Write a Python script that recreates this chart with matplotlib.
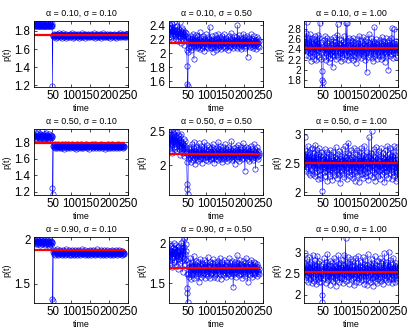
import numpy as np
import matplotlib
matplotlib.use("Agg")
import matplotlib.pyplot as plt

plt.rcParams['font.family'] = ['Liberation Sans', 'DejaVu Sans']

alphas = [0.10, 0.50, 0.90]
sigmas = [0.10, 0.50, 1.00]

p_a10_s10 = [
1.88,1.87,1.89,1.86,1.88,1.87,1.85,1.88,1.86,1.87,1.89,1.86,1.85,1.87,1.88,1.86,1.87,1.85,1.88,1.89,1.86,1.87,1.86,1.88,1.85,
1.87,1.86,1.88,1.87,1.85,1.86,1.89,1.87,1.86,1.88,1.85,1.87,1.86,1.88,1.87,1.85,1.86,1.88,1.89,1.86,1.87,1.85,1.86,1.88,1.19,
1.76,1.74,1.75,1.73,1.77,1.75,1.74,1.76,1.72,1.75,1.77,1.74,1.73,1.76,1.75,1.78,1.74,1.75,1.73,1.76,
1.75,1.77,1.74,1.72,1.75,1.76,1.74,1.75,1.78,1.73,1.75,1.74,1.76,1.75,1.72,1.74,1.77,1.75,1.74,1.76,
1.73,1.75,1.76,1.74,1.75,1.77,1.73,1.75,1.74,1.76,1.78,1.75,1.74,1.72,1.75,1.76,1.74,1.73,1.75,1.77,
1.74,1.76,1.75,1.73,1.74,1.76,1.75,1.77,1.74,1.72,1.75,1.76,1.74,1.75,1.73,1.76,1.78,1.75,1.74,1.75,
1.76,1.73,1.75,1.74,1.77,1.75,1.72,1.74,1.76,1.75,1.74,1.76,1.73,1.75,1.77,1.74,1.75,1.76,1.73,1.74,
1.75,1.77,1.74,1.76,1.75,1.73,1.74,1.76,1.78,1.75,1.74,1.72,1.75,1.76,1.74,1.75,1.77,1.73,1.75,1.74,
1.76,1.75,1.73,1.74,1.77,1.75,1.76,1.74,1.72,1.75,1.76,1.74,1.75,1.78,1.74,1.73,1.75,1.76,1.74,1.75,
1.73,1.76,1.75,1.74,1.77,1.75,1.73,1.74,1.76,1.75,1.72,1.75,1.77,1.74,1.75,1.76,1.73,1.75,1.74,1.76,
1.75,1.74,1.77,1.75,1.73,1.76,1.74,1.75,1.72,1.76,1.75,1.74,1.77,1.75,1.73,1.74,1.76,1.75,1.78,1.74,
1.75,1.73,1.76,1.74,1.75,1.77,1.74,1.76,1.75,1.73,1.74,1.76,1.75,1.77,1.73,1.75,1.74,1.76,1.75,1.74]

p_a10_s50 = [
2.36,2.31,2.40,2.28,2.34,2.22,2.38,2.30,2.26,2.42,2.33,2.19,2.35,2.29,2.44,2.27,2.31,2.24,2.37,2.21,2.33,2.28,2.39,2.25,2.30,
2.17,2.34,2.26,2.45,2.29,2.23,2.32,2.15,2.28,2.36,2.24,2.30,2.19,2.33,2.27,2.12,2.26,2.31,2.22,2.29,2.18,2.25,
2.05,1.82,1.56,1.53,2.02,
2.14,2.22,2.08,2.17,2.11,2.25,2.19,2.05,2.16,2.21,2.09,2.28,2.13,2.18,1.92,2.15,2.23,2.10,2.17,2.26,
2.12,2.07,2.19,2.14,2.24,2.09,2.16,2.20,2.11,2.30,2.13,2.06,2.18,2.15,2.22,2.08,2.17,2.12,2.25,2.10,
2.19,2.14,2.03,2.16,2.21,2.11,2.27,2.15,2.09,2.18,2.13,2.23,2.07,2.16,2.20,2.12,2.38,2.14,2.08,2.19,
2.15,2.24,2.10,2.17,2.02,2.13,2.21,2.16,2.09,2.26,2.12,2.18,2.05,2.15,2.22,2.11,2.19,2.14,2.28,2.08,
2.17,2.12,2.23,2.10,2.16,2.20,2.06,2.15,2.25,2.13,2.18,2.09,2.21,2.14,2.11,2.27,2.16,2.08,2.19,2.13,
2.22,2.10,2.17,2.15,2.04,2.18,2.24,2.12,2.16,2.09,2.20,2.14,2.29,2.11,2.17,2.13,2.21,2.07,2.16,2.19,
2.12,2.25,2.15,2.10,2.18,2.23,2.14,2.08,2.17,2.40,2.13,2.20,2.11,2.16,2.26,2.09,2.18,2.14,2.22,2.12,
2.06,2.17,2.21,2.13,2.15,2.28,2.10,2.19,2.14,2.08,2.23,2.16,2.11,2.18,2.25,2.13,1.95,2.17,2.20,2.12,
2.15,2.22,2.09,2.16,2.19,2.13,2.27,2.11,2.17,2.14,2.08,2.21,2.15,2.12,2.24,2.10,2.18,2.14,2.06,2.19,
2.13,2.23,2.16,2.11,2.20,2.15,2.09,2.17]

p_a10_s100 = [
2.55,2.38,2.61,2.47,2.30,2.72,2.44,2.95,2.52,2.36,2.58,2.41,2.27,2.63,2.49,2.33,2.70,2.45,2.18,2.56,2.39,2.62,2.28,2.51,2.43,
2.35,2.60,2.22,2.48,2.66,2.31,2.54,2.40,2.19,2.57,2.45,2.69,2.29,2.50,2.37,2.63,2.25,2.93,2.42,2.34,2.55,2.21,1.98,1.80,1.66,
1.76,2.45,2.38,2.58,2.26,2.49,2.67,2.33,2.41,2.20,2.53,2.36,2.62,2.28,2.47,2.15,2.39,2.56,2.31,2.44,2.24,2.60,2.35,2.50,2.29,
2.42,2.05,2.57,2.37,2.64,2.27,2.46,2.34,2.55,2.21,2.48,2.39,2.68,2.30,2.90,2.44,2.25,2.52,2.36,2.61,2.32,2.49,2.17,2.43,2.58,
2.38,2.26,2.54,2.45,2.31,2.66,2.40,2.22,2.51,2.35,2.47,2.92,2.29,2.56,2.93,2.41,2.19,2.49,2.33,2.62,2.27,2.44,2.37,2.59,2.24,
2.46,2.34,2.57,2.30,2.50,2.20,2.63,2.39,2.43,2.28,2.55,2.36,2.48,2.14,2.41,2.60,2.32,2.45,2.25,2.53,2.38,2.67,2.29,2.47,2.35,
2.58,2.23,2.44,2.37,2.52,2.31,2.64,2.40,2.27,2.49,2.35,2.56,2.19,2.43,2.61,2.33,1.95,2.46,2.38,2.54,2.26,2.48,2.70,2.34,2.42,
2.29,2.51,2.37,2.62,2.24,2.45,2.40,2.57,2.18,2.47,2.33,2.84,2.36,2.53,2.28,2.44,2.60,2.31,2.49,2.22,2.42,2.55,2.35,2.46,2.27,
2.58,2.38,2.43,2.21,2.52,2.36,2.65,2.30,2.47,2.41,2.25,2.56,2.34,2.49,2.16,2.44,2.62,2.32,2.51,2.39,2.28,2.54,2.43,2.00,2.46,
2.35,2.59,2.27,2.48,2.40,2.63,2.31,2.45,2.82,2.37,2.53,2.24,2.47,2.39,2.80,2.33,2.50,2.42,2.26,2.57,2.38,2.44,2.30,2.52,2.41]

p_a50_s10 = [
1.86,1.89,1.84,1.88,1.91,1.85,1.87,1.90,1.86,1.83,1.88,1.92,1.85,1.87,1.89,1.84,1.86,1.90,1.88,1.85,1.87,1.93,1.86,1.84,1.89,
1.87,1.85,1.90,1.86,1.88,1.84,1.91,1.87,1.85,1.89,1.86,1.88,1.84,1.87,1.90,1.85,1.88,1.86,1.83,1.89,1.87,1.85,1.88,1.86,1.24,
1.17,
1.75,1.77,1.74,1.76,1.73,1.78,1.75,1.76,1.74,1.77,1.75,1.73,1.76,1.78,1.74,1.75,1.77,1.76,1.73,1.75,
1.76,1.74,1.78,1.75,1.73,1.77,1.76,1.74,1.75,1.72,1.76,1.78,1.75,1.74,1.77,1.75,1.73,1.76,1.74,1.78,
1.75,1.77,1.74,1.76,1.75,1.73,1.77,1.76,1.74,1.75,1.78,1.74,1.76,1.75,1.73,1.77,1.75,1.76,1.74,1.72,
1.76,1.75,1.77,1.74,1.78,1.75,1.73,1.76,1.75,1.77,1.74,1.76,1.75,1.73,1.78,1.75,1.74,1.76,1.77,1.75,
1.73,1.76,1.74,1.75,1.77,1.76,1.74,1.78,1.75,1.73,1.76,1.75,1.74,1.77,1.75,1.76,1.72,1.75,1.77,1.74,
1.76,1.75,1.78,1.74,1.75,1.73,1.77,1.76,1.74,1.75,1.76,1.78,1.75,1.73,1.76,1.74,1.77,1.75,1.76,1.74,
1.75,1.77,1.73,1.76,1.75,1.74,1.78,1.75,1.76,1.73,1.77,1.75,1.74,1.76,1.75,1.77,1.74,1.72,1.76,1.75,
1.77,1.74,1.76,1.75,1.73,1.78,1.75,1.74,1.76,1.77,1.75,1.73,1.76,1.74,1.75,1.78,1.76,1.74,1.75,1.73,
1.76,1.75,1.77,1.74,1.76,1.75,1.73,1.77,1.75,1.74,1.76,1.78,1.75,1.74,1.76,1.73,1.75,1.77,1.74,1.76,
1.75,1.74,1.77,1.75,1.73,1.76,1.75,1.74,1.76]

p_a50_s50 = [
2.26,2.41,2.33,2.48,2.22,2.37,2.52,2.30,2.44,2.19,2.50,2.35,2.28,2.46,2.39,2.24,2.51,2.32,2.42,2.27,2.36,2.49,2.21,2.40,2.31,
2.45,2.25,2.38,2.16,2.43,2.29,2.34,2.20,2.47,2.27,2.35,2.18,2.32,2.24,2.39,2.14,2.30,2.26,2.36,2.19,2.28,2.22,2.05,
1.72,1.65,1.57,
2.15,2.24,2.09,2.19,2.28,2.12,2.20,2.05,2.17,2.31,2.14,2.22,2.08,2.18,2.26,2.11,2.35,2.16,2.02,2.21,
2.13,2.19,2.27,2.10,2.16,2.24,2.07,2.18,2.33,2.14,2.20,2.09,2.25,2.17,2.12,2.29,2.15,2.04,2.22,2.18,
2.11,2.26,2.16,2.34,2.13,2.19,2.08,2.23,2.15,2.30,2.12,2.17,2.21,2.06,2.18,2.27,2.14,2.10,2.24,2.16,
2.20,2.09,2.28,2.13,2.17,2.32,2.11,2.22,2.15,2.03,2.19,2.25,2.14,2.18,2.10,2.26,2.16,2.21,2.08,2.35,
2.13,2.19,2.24,2.12,2.17,2.29,2.10,2.20,2.15,2.05,2.23,2.18,2.13,2.27,2.16,2.09,2.21,2.14,2.31,2.11,
2.18,2.24,2.07,2.16,2.22,2.13,2.28,2.17,2.10,2.20,2.15,2.25,2.12,2.19,2.36,2.14,2.08,2.22,2.17,2.11,
2.26,2.15,2.19,2.02,2.21,2.13,2.28,2.16,2.10,2.23,2.18,2.14,2.30,2.12,2.20,2.07,2.24,2.17,2.13,2.27,
2.15,2.19,2.09,2.22,2.16,2.33,2.11,2.18,2.25,2.14,1.92,2.20,2.15,2.28,2.12,2.17,2.23,2.10,2.19,2.26,
2.14,2.18,2.06,2.21,2.16,2.29,2.13,2.19,2.24,2.11,2.17,2.22,2.08,2.15,2.32,2.13,2.20,2.16,1.95,2.18,
2.23,2.12,2.17,2.27,2.14,2.09,2.21,2.15,2.19]

p_a50_s100 = [
2.62,2.48,2.95,2.55,2.40,2.71,2.36,2.58,2.66,2.44,2.80,2.52,2.33,2.69,2.47,2.61,2.29,2.56,2.74,2.42,2.63,2.38,2.77,2.50,2.31,
2.59,2.45,2.68,2.27,2.54,2.82,2.41,2.60,2.35,2.73,2.49,2.22,2.57,2.65,2.39,2.76,2.46,2.30,2.62,2.53,2.25,2.70,2.43,2.51,2.02,
2.48,2.64,2.34,2.57,2.42,2.75,2.28,2.52,2.61,2.37,2.69,2.45,2.19,2.56,2.40,2.66,2.32,2.50,2.72,2.44,2.27,2.59,2.38,2.63,2.47,
2.21,2.55,2.41,2.70,2.35,2.52,2.60,2.29,2.48,2.78,2.39,2.57,2.24,2.46,2.65,2.33,2.54,2.43,2.71,2.30,2.58,2.16,2.49,2.62,2.37,
2.53,2.44,2.74,2.31,2.56,2.40,2.63,2.26,2.51,2.79,2.36,2.47,2.60,2.22,2.55,2.42,2.68,2.85,2.34,2.50,2.64,2.28,2.46,2.57,2.39,
2.72,2.32,2.49,2.61,2.25,2.54,2.43,2.77,2.37,2.58,2.20,2.47,2.66,2.35,2.52,2.44,2.73,2.29,2.56,2.40,2.62,2.18,2.50,2.69,2.36,
2.55,2.42,2.76,2.31,2.59,2.46,2.24,2.64,2.38,2.53,2.80,2.33,2.48,2.61,2.27,2.57,2.44,2.70,2.35,2.52,2.21,2.63,2.95,2.41,2.49,
2.58,2.30,2.67,2.45,3.05,2.38,2.55,2.26,2.62,2.47,2.74,2.34,2.51,2.19,2.60,2.43,2.78,2.32,2.56,2.40,2.65,2.28,2.50,2.71,2.37,
2.54,2.45,2.23,2.63,2.39,2.76,2.48,2.31,2.59,2.42,2.68,2.35,2.52,2.17,2.57,2.44,2.72,2.29,2.61,2.46,2.36,2.80,2.50,2.25,2.58,
2.41,2.66,2.33,2.53,2.77,2.38,2.49,2.22,2.62,2.45,2.70,2.34,2.56,2.79,2.28,2.51,2.43,2.64,2.19,2.55,2.37,2.78,2.24,2.47,2.52]

p_a90_s10 = [
1.99,1.97,2.00,1.96,1.98,1.95,1.99,1.97,1.96,2.01,1.98,1.95,1.97,1.99,1.96,1.98,1.94,1.97,2.00,1.96,1.98,1.97,1.95,1.99,1.96,
1.98,1.96,1.97,1.94,1.99,1.97,1.95,1.98,1.96,2.00,1.97,1.95,1.98,1.96,1.93,1.97,1.99,1.96,1.95,1.98,1.97,1.94,1.96,1.97,1.33,
1.30,
1.86,1.84,1.87,1.85,1.88,1.83,1.86,1.85,1.87,1.84,1.86,1.89,1.85,1.83,1.87,1.86,1.84,1.88,1.85,1.86,
1.84,1.87,1.85,1.83,1.86,1.88,1.85,1.84,1.87,1.86,1.82,1.85,1.87,1.84,1.86,1.89,1.85,1.84,1.86,1.87,
1.85,1.83,1.86,1.88,1.84,1.85,1.87,1.86,1.83,1.85,1.88,1.84,1.86,1.85,1.87,1.83,1.86,1.84,1.88,1.85,
1.86,1.84,1.87,1.85,1.82,1.86,1.88,1.85,1.84,1.87,1.85,1.86,1.83,1.87,1.85,1.84,1.86,1.89,1.85,1.84,
1.87,1.85,1.86,1.83,1.85,1.88,1.84,1.86,1.85,1.87,1.84,1.86,1.82,1.85,1.87,1.86,1.84,1.88,1.85,1.86,
1.83,1.87,1.85,1.84,1.86,1.88,1.85,1.84,1.87,1.85,1.86,1.83,1.85,1.87,1.84,1.86,1.89,1.85,1.84,1.86,
1.85,1.87,1.84,1.86,1.83,1.85,1.88,1.86,1.84,1.85,1.87,1.85,1.83,1.86,1.84,1.88,1.85,1.86,1.84,1.87,
1.85,1.83,1.86,1.88,1.85,1.84,1.86,1.87,1.85,1.82,1.86,1.84,1.87,1.85,1.86,1.88,1.84,1.85,1.87,1.83,
1.86,1.85,1.84,1.87,1.86,1.85,1.88,1.84,1.86,1.85,1.83,1.87,1.85,1.86,1.84,1.88,1.85,1.86,1.84,1.87,
1.85,1.86,1.83,1.87,1.85,1.84,1.86,1.85,1.84]

p_a90_s50 = [
1.78,1.92,1.85,1.99,1.74,1.88,1.96,1.81,1.90,1.70,1.94,1.83,1.87,2.01,1.76,1.89,1.93,1.79,1.86,1.98,1.72,1.91,1.84,1.95,1.68,
1.88,1.80,1.97,1.85,1.75,1.92,1.83,2.00,1.87,1.78,1.94,1.64,1.90,2.03,1.82,1.96,2.07,1.86,1.74,1.99,1.90,1.79,
1.62,1.44,1.37,1.26,
1.62,1.70,1.58,1.75,1.66,1.81,1.63,1.72,1.55,1.68,1.77,1.60,1.71,1.64,1.84,1.67,1.57,1.74,1.69,1.61,
1.78,1.65,1.72,1.59,1.68,1.76,1.63,1.70,1.52,1.66,1.73,1.62,1.80,1.67,1.58,1.71,1.64,1.75,1.69,1.60,
1.74,1.66,1.79,1.63,1.70,1.57,1.68,1.76,1.62,1.72,1.65,1.83,1.67,1.59,1.73,1.64,1.70,1.56,1.77,1.66,
1.61,1.71,1.68,1.75,1.63,1.80,1.66,1.58,1.72,1.65,1.69,1.60,1.76,1.67,1.62,1.74,1.70,1.57,1.68,1.78,
1.64,1.71,1.66,1.82,1.61,1.73,1.68,1.55,1.70,1.65,1.77,1.62,1.69,1.74,1.60,1.67,1.79,1.63,1.72,1.66,
1.58,1.71,1.64,1.76,1.68,1.61,1.73,1.66,1.81,1.62,1.70,1.65,1.75,1.59,1.68,1.72,1.63,1.78,1.67,1.45,
1.66,1.74,1.61,1.69,1.77,1.64,1.71,1.58,1.68,1.85,1.63,1.72,1.66,1.75,1.60,1.69,1.79,1.65,1.71,1.62,
1.74,1.67,1.56,1.70,1.64,1.78,1.66,1.61,1.72,1.68,1.75,1.59,1.69,1.82,1.63,1.71,1.66,1.52,1.70,1.65,
1.77,1.62,1.68,1.74,1.60,1.71,1.66,1.79,1.63,1.69,1.58,1.73,1.67,1.76,1.61,1.70,1.64,1.75,1.62,1.68,
1.72,1.59,1.66,1.74,1.63,1.70,1.65,1.61,1.68]

p_a90_s100 = [
2.78,2.55,3.00,2.62,2.41,2.70,2.35,2.58,2.84,2.47,2.66,2.30,2.73,2.52,2.89,2.44,2.61,2.38,2.76,2.50,2.27,2.68,2.57,2.95,2.43,
2.64,2.33,2.71,2.49,2.82,2.40,2.59,2.25,2.67,2.53,2.92,2.45,2.74,2.36,2.60,2.29,2.79,2.51,2.42,2.69,2.55,2.31,2.62,2.00,1.83,
2.48,2.72,2.39,2.58,2.86,2.44,2.65,2.28,2.55,2.77,2.41,2.63,2.97,2.50,2.34,2.70,2.46,2.60,2.24,2.81,2.53,2.43,2.68,2.37,2.57,
2.74,2.45,2.62,2.32,2.88,2.51,2.40,2.67,2.56,2.21,2.79,2.47,2.63,2.35,2.72,2.54,2.93,2.42,2.60,2.30,2.75,2.49,2.66,2.39,2.58,
2.83,2.44,2.61,2.27,2.70,2.52,2.95,2.38,2.64,2.48,3.34,2.55,2.33,2.76,2.46,2.62,2.90,2.41,2.57,2.69,2.26,2.73,2.50,2.44,2.85,
2.53,2.36,2.67,2.48,2.80,2.40,2.59,2.22,2.71,2.55,2.43,2.87,2.50,2.64,2.31,2.74,2.46,2.58,2.38,2.92,2.52,2.61,2.29,2.69,2.45,
2.77,2.41,2.56,2.34,2.66,2.89,2.49,2.60,2.26,2.72,2.53,2.44,2.82,2.37,2.63,2.51,2.24,2.70,2.57,2.96,2.43,2.65,2.35,2.58,2.48,
2.73,2.30,2.62,2.54,2.84,2.40,2.67,2.47,2.21,2.75,2.56,2.42,2.91,2.50,2.64,2.33,2.71,2.45,2.59,2.28,2.79,2.52,2.38,2.68,2.55,
2.43,2.86,2.49,2.61,2.32,2.74,2.53,2.40,2.66,2.25,2.80,2.57,2.46,2.98,2.39,2.63,2.51,2.70,2.34,2.58,2.44,2.77,2.29,2.62,3.02,
2.48,2.67,2.36,2.55,2.83,2.42,2.60,2.27,2.72,2.50,2.64,2.38,2.88,2.45,2.58,2.31,2.69,2.53,2.76,2.40,2.62,2.47,2.35,2.71,2.56]

series = [[p_a10_s10, p_a10_s50, p_a10_s100],
          [p_a50_s10, p_a50_s50, p_a50_s100],
          [p_a90_s10, p_a90_s50, p_a90_s100]]

red_levels = [[1.76, 2.153, 2.425],
              [1.795, 2.17, 2.51],
              [1.88, 1.69, 2.53]]

y_limits = [[(1.18, 1.91), (1.52, 2.46), (1.66, 2.96)],
            [(1.16, 1.96), (1.56, 2.54), (1.95, 3.09)],
            [(1.28, 2.03), (1.25, 2.08), (1.80, 3.37)]]

y_ticks = [[[1.2, 1.4, 1.6, 1.8], [1.6, 1.8, 2.0, 2.2, 2.4], [1.8, 2.0, 2.2, 2.4, 2.6, 2.8]],
           [[1.2, 1.4, 1.6, 1.8], [2.0, 2.5], [2.0, 2.5, 3.0]],
           [[1.5, 2.0], [1.5, 2.0], [2.0, 2.5, 3.0]]]

x_ticks = [50, 100, 150, 200, 250]

W, H = 410, 330
fig = plt.figure(figsize=(W / 100, H / 100), dpi=100)

col_left = [34, 169, 304]
ax_w = 94
row_top = [21, 129, 237]
ax_h = 66

for r in range(3):
    for c in range(3):
        y = np.array(series[r][c])
        t = np.arange(1, len(y) + 1)
        ax = fig.add_axes([col_left[c] / W, 1 - (row_top[r] + ax_h) / H, ax_w / W, ax_h / H])
        ax.plot(t, y, '-o', color='#0000ff', lw=0.4, ms=3.8, mfc='none', mew=0.45)
        ax.plot([t[0], t[-1]], [red_levels[r][c]] * 2, color='#ff0000', lw=1.6)
        ax.set_xlim(1, 250)
        ax.set_ylim(*y_limits[r][c])
        ax.set_xticks(x_ticks)
        ax.set_yticks(y_ticks[r][c])
        ax.set_yticklabels([('%g' % v) for v in y_ticks[r][c]])
        ax.tick_params(direction='in', length=2, width=0.5, labelsize=8.3,
                       top=True, right=True, pad=2.5)
        if len(y_ticks[r][c]) > 5:
            ax.tick_params(axis='y', labelsize=7.2, pad=2)
        for s in ax.spines.values():
            s.set_linewidth(0.6)
        ax.set_title('α = %.2f, σ = %.2f' % (alphas[r], sigmas[c]), fontsize=6.4, pad=4)
        ax.set_xlabel('time', fontsize=6.4, labelpad=1)
        ax.set_ylabel('p(t)', fontsize=6.4, labelpad=2)

fig.savefig('out.png', dpi=100)
